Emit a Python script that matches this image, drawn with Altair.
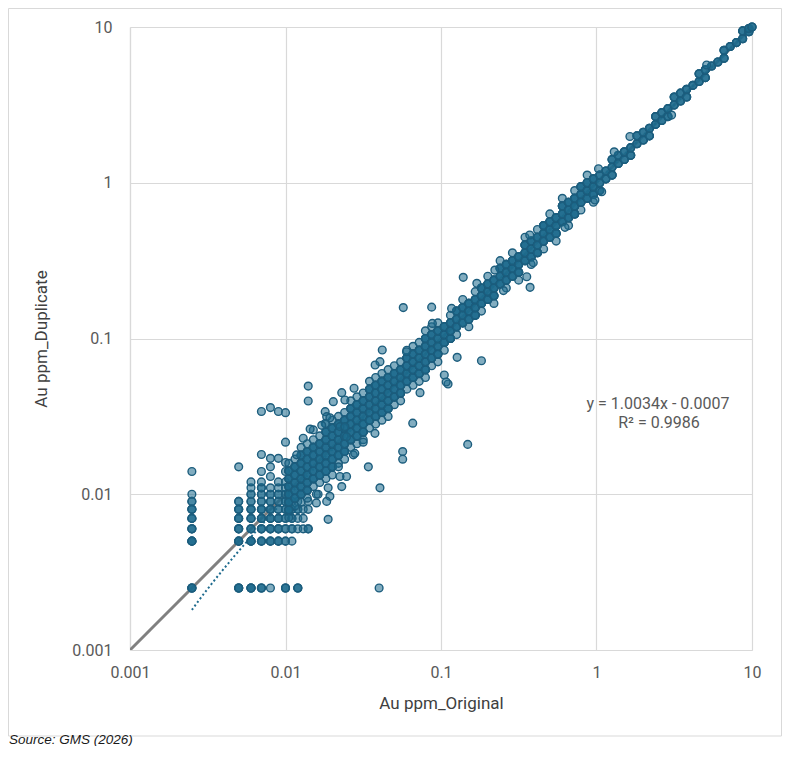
import altair as alt
import pandas as pd

# ---------------- data ----------------
# detection-limit style values: original x, duplicate y values, number of samples at each
det_x = [0.0025, 0.005, 0.006, 0.007, 0.008, 0.009, 0.010, 0.011, 0.012, 0.013, 0.014]
det_y = [
    [0.0025, 0.005, 0.006, 0.007, 0.008, 0.009, 0.010, 0.014],
    [0.0025, 0.005, 0.006, 0.007, 0.008, 0.009, 0.015],
    [0.0025, 0.005, 0.006, 0.007, 0.008, 0.009, 0.010, 0.011, 0.012],
    [0.0025, 0.005, 0.006, 0.007, 0.008, 0.009, 0.010, 0.011, 0.012, 0.014, 0.018, 0.034],
    [0.0025, 0.005, 0.006, 0.007, 0.008, 0.009, 0.010, 0.011, 0.013, 0.015, 0.017, 0.036],
    [0.005, 0.006, 0.007, 0.008, 0.009, 0.010, 0.011, 0.012, 0.017, 0.034],
    [0.0025, 0.005, 0.006, 0.007, 0.008, 0.009, 0.010, 0.011, 0.012, 0.014, 0.016],
    [0.005, 0.006, 0.007, 0.008, 0.009],
    [0.0025, 0.006, 0.007, 0.008, 0.009],
    [0.006, 0.007, 0.008],
    [0.006, 0.008, 0.009],
]
det_n = [
    [4, 4, 3, 3, 3, 2, 1, 1],
    [4, 4, 3, 3, 3, 2, 1],
    [4, 4, 3, 3, 3, 2, 2, 1, 1],
    [3, 3, 3, 3, 3, 2, 2, 2, 1, 1, 1, 1],
    [1, 3, 3, 3, 3, 2, 2, 1, 1, 1, 1, 1],
    [3, 3, 3, 2, 2, 2, 1, 1, 1, 1],
    [3, 2, 2, 2, 2, 2, 2, 1, 1, 1, 1],
    [1, 2, 2, 2, 1],
    [3, 1, 1, 2, 1],
    [1, 1, 1],
    [1, 1, 1],
]

# dense band 0.01 - 0.1 (each position holds several overlapping samples)
band_a_x = [0.0105, 0.0115, 0.0126, 0.0138, 0.0151, 0.0166, 0.0182, 0.0200, 0.0219, 0.0240,
            0.0263, 0.0288, 0.0316, 0.0347, 0.0380, 0.0417, 0.0457, 0.0501, 0.0550, 0.0603,
            0.0661, 0.0724, 0.0794, 0.0871, 0.0955]
band_a_y = [
    [0.00794, 0.00891, 0.0100, 0.0112, 0.0126, 0.0141],
    [0.00944, 0.0106, 0.0119, 0.0133, 0.0150],
    [0.0100, 0.0112, 0.0126, 0.0141, 0.0158, 0.0178],
    [0.0106, 0.0119, 0.0133, 0.0150, 0.0168, 0.0188],
    [0.0126, 0.0141, 0.0158, 0.0178, 0.0200],
    [0.0133, 0.0150, 0.0168, 0.0188, 0.0211],
    [0.0141, 0.0158, 0.0178, 0.0200, 0.0224, 0.0251],
    [0.0150, 0.0168, 0.0188, 0.0211, 0.0237, 0.0266],
    [0.0178, 0.0200, 0.0224, 0.0251, 0.0282],
    [0.0188, 0.0211, 0.0237, 0.0266, 0.0299],
    [0.0224, 0.0251, 0.0282, 0.0316, 0.0355],
    [0.0237, 0.0266, 0.0299, 0.0335, 0.0376],
    [0.0251, 0.0282, 0.0316, 0.0355, 0.0398],
    [0.0299, 0.0335, 0.0376, 0.0422, 0.0473],
    [0.0316, 0.0355, 0.0398, 0.0447, 0.0501],
    [0.0335, 0.0376, 0.0422, 0.0473, 0.0531],
    [0.0355, 0.0398, 0.0447, 0.0501, 0.0562],
    [0.0422, 0.0473, 0.0531, 0.0596],
    [0.0447, 0.0501, 0.0562, 0.0631],
    [0.0531, 0.0596, 0.0668, 0.0750],
    [0.0562, 0.0631, 0.0708, 0.0794],
    [0.0596, 0.0668, 0.0750, 0.0841],
    [0.0631, 0.0708, 0.0794, 0.0891, 0.100],
    [0.0750, 0.0841, 0.0944, 0.106],
    [0.0794, 0.0891, 0.100, 0.112],
]
band_a_mult = 4
# single samples along both edges of that band
band_a_edge_y = [
    [0.00708, 0.0158], [0.00841, 0.0168], [0.00891, 0.0200], [0.00944, 0.0211], [0.0112, 0.0224],
    [0.0119, 0.0237], [0.0126, 0.0282], [0.0133, 0.0299], [0.0158, 0.0316], [0.0168, 0.0335],
    [0.0200, 0.0398], [0.0211, 0.0422], [0.0224, 0.0447], [0.0266, 0.0531], [0.0282, 0.0562],
    [0.0299, 0.0596], [0.0316, 0.0631], [0.0376, 0.0668], [0.0398, 0.0708], [0.0473, 0.0841],
    [0.0501, 0.0891], [0.0531, 0.0944], [0.0562, 0.112], [0.0668, 0.119], [0.0708, 0.126],
]

# dense band 0.1 - 1
band_b_x = [0.105, 0.115, 0.126, 0.138, 0.151, 0.166, 0.182, 0.200, 0.219, 0.240,
            0.263, 0.288, 0.316, 0.347, 0.380, 0.417, 0.457, 0.501, 0.550, 0.603,
            0.661, 0.724, 0.794, 0.871, 0.955]
band_b_y = [
    [0.0944, 0.106, 0.119], [0.100, 0.112, 0.126], [0.119, 0.133, 0.150], [0.126, 0.141, 0.158],
    [0.133, 0.150, 0.168], [0.141, 0.158, 0.178], [0.168, 0.188, 0.211], [0.178, 0.200, 0.224],
    [0.188, 0.211, 0.237], [0.224, 0.251, 0.282], [0.237, 0.266, 0.299], [0.251, 0.282, 0.316],
    [0.266, 0.299, 0.335], [0.316, 0.355, 0.398], [0.335, 0.376, 0.422], [0.355, 0.398, 0.447],
    [0.422, 0.473, 0.531], [0.447, 0.501, 0.562], [0.473, 0.531, 0.596], [0.562, 0.631, 0.708],
    [0.596, 0.668, 0.750], [0.631, 0.708, 0.794], [0.750, 0.841, 0.944], [0.794, 0.891, 1.00],
    [0.841, 0.944, 1.06],
]
band_b_mult = 4
band_b_edge_y = [
    [0.0841], [0.141], [0.106], [0.178], [0.119], [0.200], [0.150], [0.251], [0.168], [0.316],
    [0.211], [0.355], [0.237], [0.447], [0.299], [0.501], [0.376], [0.631], [0.422], [0.794],
    [0.531], [0.891], [0.668], [1.12], [0.750],
]

# band 1 - 10
band_c_x = [1.05, 1.15, 1.26, 1.38, 1.51, 1.66, 1.82, 2.00, 2.19, 2.40, 2.63, 2.88, 3.16,
            3.47, 3.80, 4.17, 4.57, 5.01, 5.50, 6.03, 6.61, 7.24, 7.94, 8.71, 9.55, 10.0]
band_c_y = [
    [0.891, 1.00, 1.12], [1.06, 1.19], [1.12, 1.26, 1.41], [1.33, 1.50], [1.41, 1.58],
    [1.50, 1.68], [1.78, 2.00], [1.88, 2.11], [2.00, 2.24], [2.37, 2.66], [2.51, 2.82],
    [2.66, 2.99], [3.16, 3.55], [3.35, 3.76], [3.55, 3.98], [4.22], [4.47, 5.01],
    [4.73, 5.31], [5.62], [5.96], [6.31, 7.08], [7.50], [7.94], [8.41, 9.44], [9.33, 9.77],
    [10.0],
]
band_c_mult = 3

# scattered points away from the band
out_x = [0.0572, 0.0871, 0.117, 0.139, 0.0419, 0.0405, 0.0377, 0.0600, 0.127, 0.182,
         0.105, 0.111, 0.108, 0.014, 0.014, 0.0203, 0.0241, 0.0230, 0.0276, 0.0733,
         0.0658, 0.1485, 0.0567, 0.0567, 0.0341, 0.0376, 0.0316, 0.0273, 0.0247, 0.0219,
         0.0188, 0.0193, 0.0162, 0.0230, 0.0100, 0.0100, 0.0180, 0.0184, 0.0193, 0.0180,
         0.0151, 0.0130, 0.0118, 0.0279, 0.0224, 0.0241, 0.0247, 0.0405, 0.0400, 0.0184,
         0.0188, 0.0158, 0.0224, 0.0158, 0.0140, 0.0144, 0.0171, 0.356, 0.374, 0.392,
         0.252, 0.627, 0.977, 1.08, 0.170, 0.222, 0.372, 1.03, 1.30, 1.64,
         5.11, 3.04, 0.088]
out_y = [0.158, 0.159, 0.156, 0.247, 0.0844, 0.0710, 0.0676, 0.0822, 0.0757, 0.0720,
         0.0583, 0.0510, 0.0526, 0.0495, 0.0397, 0.0393, 0.0403, 0.0449, 0.0479, 0.0449,
         0.0286, 0.0209, 0.0188, 0.0168, 0.0150, 0.0246, 0.0216, 0.0179, 0.0130, 0.0150,
         0.0110, 0.0097, 0.0100, 0.0112, 0.0334, 0.0216, 0.0339, 0.0315, 0.0310, 0.0285,
         0.0259, 0.0229, 0.0179, 0.0183, 0.0272, 0.0272, 0.0234, 0.0110, 0.0025, 0.0090,
         0.0069, 0.0088, 0.0130, 0.0100, 0.0060, 0.0262, 0.0277, 0.249, 0.213, 0.307,
         0.203, 0.517, 0.775, 0.876, 0.226, 0.275, 0.462, 1.23, 1.58, 1.98,
         5.70, 2.72, 0.125]

one_to_one = [0.001, 10]
trend_slope = 1.0034
trend_intercept = -0.0007
trend_x_range = [0.0025, 10]
eq_text = "y = 1.0034x - 0.0007"
r2_text = "R² = 0.9986"
tick_values = [0.001, 0.01, 0.1, 1, 10]
x_title = "Au ppm_Original"
y_title = "Au ppm_Duplicate"
source_text = "Source: GMS (2026)"

# ---------------- build tables ----------------
rows = []
for xv, ys, ns in zip(det_x, det_y, det_n):
    for yv, n in zip(ys, ns):
        for _ in range(n):
            rows.append({"orig": xv, "dup": yv})
for xs, ys_list, mult in [(band_a_x, band_a_edge_y, 1), (band_b_x, band_b_edge_y, 1),
                          (band_a_x, band_a_y, band_a_mult), (band_b_x, band_b_y, band_b_mult),
                          (band_c_x, band_c_y, band_c_mult)]:
    for xv, ys in zip(xs, ys_list):
        for yv in ys:
            for _ in range(mult):
                rows.append({"orig": xv, "dup": yv})
for xv, yv in zip(out_x, out_y):
    rows.append({"orig": xv, "dup": yv})
pts = pd.DataFrame(rows)

FONT = "Roboto"
W, H = 622, 623

xscale = alt.Scale(type="log", domain=[0.001, 10], nice=False)
yscale = alt.Scale(type="log", domain=[0.001, 10], nice=False)

xaxis = alt.Axis(values=tick_values, format="~g", title=x_title, labelPadding=14,
                 titleX=W / 2, titleY=58, titleBaseline="alphabetic", titleAlign="center")
yaxis = alt.Axis(values=tick_values, format="~g", title=y_title, labelPadding=18,
                 titleX=-84, titleY=H / 2, titleAngle=270, titleBaseline="alphabetic",
                 titleAlign="center")

base_enc = dict(
    x=alt.X("orig:Q", scale=xscale, axis=xaxis),
    y=alt.Y("dup:Q", scale=yscale, axis=yaxis),
)

frame = alt.Chart(pd.DataFrame({"a": [0]})).mark_rect(
    fill="white", fillOpacity=0, stroke="#d9d9d9", strokeWidth=1
).encode(x=alt.value(-121.5), x2=alt.value(651.5), y=alt.value(-18.5), y2=alt.value(709))

line11 = alt.Chart(pd.DataFrame({"orig": one_to_one, "dup": one_to_one})).mark_line(
    color="#808080", strokeWidth=3, clip=True
).encode(**base_enc)

trend = alt.Chart(alt.sequence(0, 121, as_="i")).transform_calculate(
    orig=f"pow(10, log({trend_x_range[0]})/LN10 + datum.i*(log({trend_x_range[1]}/{trend_x_range[0]})/LN10)/120)"
).transform_calculate(
    dup=f"{trend_slope}*datum.orig + ({trend_intercept})"
).transform_filter("datum.dup > 0.001").mark_line(
    color="#1f6b8e", strokeWidth=2, strokeDash=[2, 2.5], clip=True
).encode(**base_enc)

points = alt.Chart(pts).mark_circle(
    size=60, fill="#1b6a8d", fillOpacity=0.55, stroke="#1c5d7d", strokeWidth=1.4, strokeOpacity=1
).encode(**base_enc)

eq = alt.Chart(pd.DataFrame({"t": [eq_text]})).mark_text(
    x=528, y=382, align="center", baseline="alphabetic", font=FONT, fontSize=16, color="#595959"
).encode(text="t:N")
r2 = alt.Chart(pd.DataFrame({"t": [r2_text]})).mark_text(
    x=529, y=401, align="center", baseline="alphabetic", font=FONT, fontSize=16, color="#595959"
).encode(text="t:N")
src = alt.Chart(pd.DataFrame({"t": [source_text]})).mark_text(
    x=-121, y=717, align="left", baseline="alphabetic", font="Liberation Sans",
    fontSize=13.5, fontStyle="italic", color="#1a1a1a"
).encode(text="t:N")

chart = alt.layer(frame, line11, trend, points, eq, r2, src).properties(
    width=W, height=H,
    padding={"left": 122, "top": 19, "right": 30, "bottom": 96},
    autosize=alt.AutoSizeParams(type="none"),
    background="white",
).configure_view(strokeWidth=0).configure_axis(
    grid=True, gridColor="#d9d9d9", gridWidth=1.2,
    domainColor="#d9d9d9", domainWidth=1.2,
    ticks=False, tickSize=0,
    labelFont=FONT, labelFontSize=16, labelColor="#595959", labelFlush=False,
    titleFont=FONT, titleFontSize=17, titleColor="#404040", titleFontWeight="normal",
)

chart.save("out.html", embed_options={"renderer": "svg", "actions": False})
